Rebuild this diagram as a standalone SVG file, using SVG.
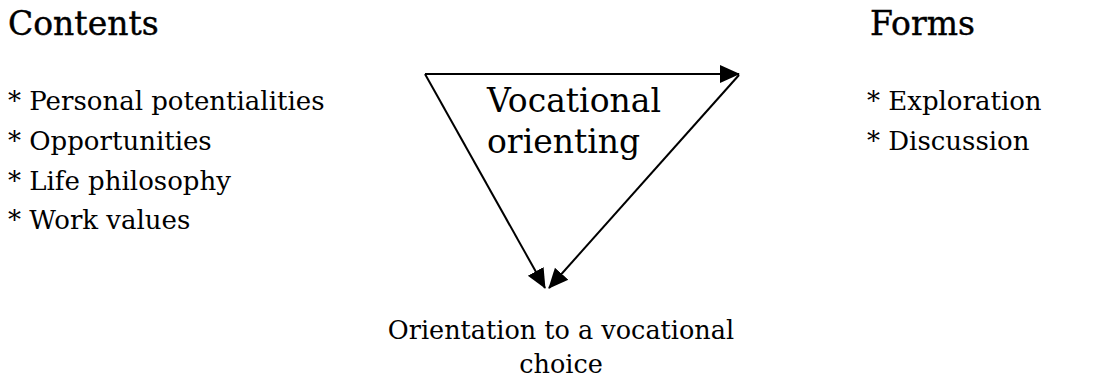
<svg xmlns="http://www.w3.org/2000/svg" width="1094" height="379" viewBox="0 0 1094 379">
<defs>
<style>
text{font-family:"DejaVu Serif","Liberation Serif",serif;fill:#000}
.h{font-size:33px;stroke:#000;stroke-width:0.4}
.i{font-size:26px}
.c{font-size:33px}
.b{font-size:25.5px;text-anchor:middle}
.conn{stroke:#000;stroke-width:2;fill:none}
</style>
<marker id="ah" viewBox="0 0 20 20" refX="19" refY="10" markerWidth="20" markerHeight="20" markerUnits="userSpaceOnUse" orient="auto">
<path d="M0,1 L20,10 L0,19 Z" fill="#000"/>
</marker>
</defs>
<rect width="1094" height="379" fill="#fff"/>
<g id="contents">
<text class="h" x="8" y="35">Contents</text>
<text class="i" x="8" y="110">* Personal potentialities</text>
<text class="i" x="8" y="150">* Opportunities</text>
<text class="i" x="8" y="190">* Life philosophy</text>
<text class="i" x="8" y="229">* Work values</text>
</g>
<g id="forms">
<text class="h" x="870" y="35">Forms</text>
<text class="i" x="867" y="110">* Exploration</text>
<text class="i" x="867" y="150">* Discussion</text>
</g>
<g id="vocational-orienting">
<text class="c" x="487" y="112">Vocational</text>
<text class="c" x="487" y="153">orienting</text>
</g>
<g id="orientation">
<text class="b" x="561" y="339">Orientation to a vocational</text>
<text class="b" x="561" y="373">choice</text>
</g>
<g id="connectors">
<path class="conn" d="M425,74 L739,74" marker-end="url(#ah)"/>
<path class="conn" d="M425,74 L545,288" marker-end="url(#ah)"/>
<path class="conn" d="M739,75 L549,288" marker-end="url(#ah)"/>
</g>
</svg>
